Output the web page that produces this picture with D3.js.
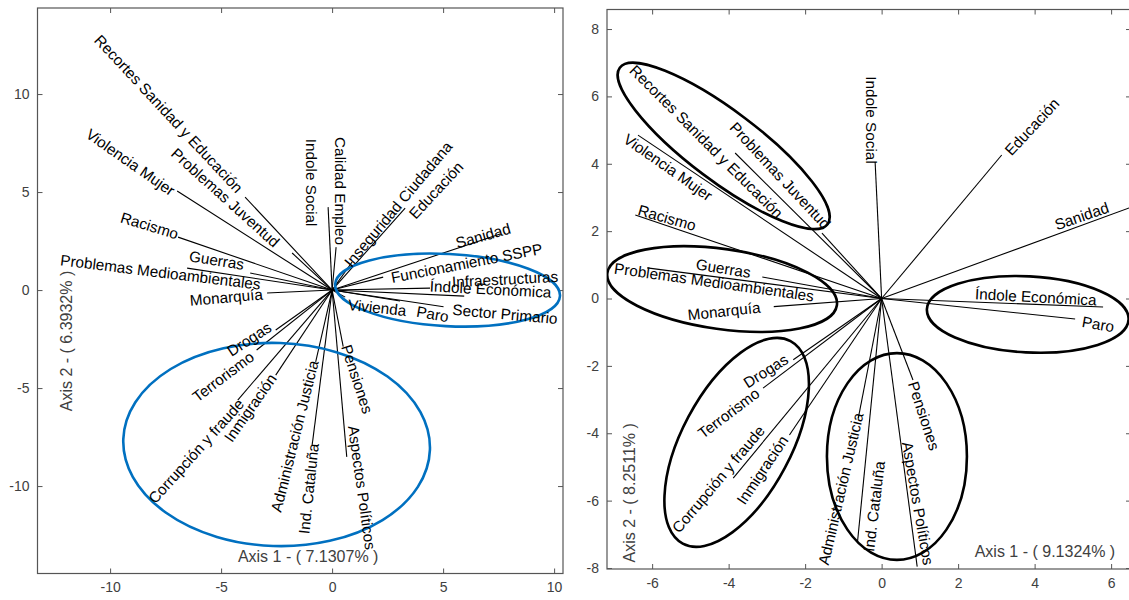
<!DOCTYPE html>
<html>
<head>
<meta charset="utf-8">
<script src="https://cdn.jsdelivr.net/npm/d3@7"></script>
<style>
  html, body { margin: 0; padding: 0; background: #fff; }
  svg { display: block; }
</style>
</head>
<body>
<svg id="chart" width="1129" height="600"></svg>
<script>
// ---------------- LEFT PANEL DATA ----------------
const leftNames = ["Recortes Sanidad y Educación","Problemas Juventud","Violencia Mujer","Racismo","Guerras",
  "Problemas Medioambientales","Monarquía","Drogas","Terrorismo","Corrupción y fraude","Inmigración",
  "Administración Justicia","Ind. Cataluña","Pensiones","Aspectos Políticos","Indole Social","Calidad Empleo",
  "Inseguridad Ciudadana","Educación","Sanidad","Funcionamiento SSPP","Infraestructuras","Índole Económica",
  "Vivienda","Paro","Sector Primario"];
const leftX = [-3.92,-1.80,-6.98,-6.94,-3.69,-6.53,-2.93,-2.54,-3.40,-4.25,-2.54,-0.74,-0.90,0.50,0.66,-0.18,0.18,0.90,3.29,7.57,2.30,4.41,5.95,0.59,3.06,5.02];
const leftY = [4.74,1.89,5.05,2.70,0.87,1.12,-0.15,-2.04,-3.06,-5.61,-4.34,-3.66,-7.91,-2.89,-8.51,4.23,2.19,1.43,4.18,2.86,0.66,0.10,-0.31,-0.36,-0.56,-0.85];
// label anchors (data units) and text angles (degrees)
const leftLabX = [-7.36,-4.80,-9.08,-8.22,-5.20,-7.73,-4.77,-3.74,-4.91,-6.13,-3.69,-1.69,-1.06,1.13,1.35,-0.92,0.36,2.97,4.68,6.80,6.06,7.79,7.14,2.03,4.53,7.79];
const leftLabY = [9.00,4.72,6.53,3.29,1.53,0.92,-0.36,-2.50,-4.41,-8.21,-6.00,-7.45,-10.13,-4.54,-10.08,5.48,5.05,4.39,5.10,2.78,1.38,0.56,0.05,-0.89,-1.22,-1.22];
const leftLabRot = [47,42,35,17,9,7,-5,-33,-37,-48,-55,-76,-84,72,82,90,90,-50,-47,-16,-11,-3,3,6,10,5];
const leftXTicks = [-10,-5,0,5,10];
const leftYTicks = [-10,-5,0,5,10];
const leftXDomain = [-13.27, 10.4];
const leftYDomain = [-14.46, 14.39];
const leftAxis1 = "Axis 1 - ( 7.1307% )";
const leftAxis2 = "Axis 2 - ( 6.3932% )";
// ellipses: centre (data), semi-axes (x units, y units), rotation (deg)
const leftEllCx = [5.20,-2.50];
const leftEllCy = [0.00,-7.88];
const leftEllRx = [5.07,6.91];
const leftEllRy = [1.84,5.18];
const leftEllRot = [3,2];

// ---------------- RIGHT PANEL DATA ----------------
const rightNames = ["Recortes Sanidad y Educación","Problemas Juventud","Violencia Mujer","Racismo","Guerras",
  "Problemas Medioambientales","Monarquía","Drogas","Terrorismo","Corrupción y fraude","Inmigración",
  "Administración Justicia","Ind. Cataluña","Pensiones","Aspectos Políticos","Indole Social","Educación",
  "Sanidad","Índole Económica","Paro"];
const rightX = [-3.83,-1.56,-6.37,-6.44,-3.12,-6.13,-2.82,-2.31,-3.10,-3.88,-2.41,-0.61,-0.63,0.82,0.93,-0.17,3.14,6.47,5.79,5.06];
const rightY = [4.32,1.94,4.85,2.48,0.64,0.91,-0.24,-1.82,-2.66,-5.33,-4.05,-3.55,-7.22,-2.42,-7.96,4.05,4.26,2.69,-0.25,-0.61];
const rightLabX = [-4.58,-2.65,-5.58,-5.61,-4.14,-4.38,-4.12,-3.03,-4.00,-4.27,-3.12,-1.07,-0.20,1.11,0.95,-0.27,3.93,5.23,4.03,5.66];
const rightLabY = [4.66,3.65,3.90,2.40,0.90,0.49,-0.37,-2.15,-3.40,-5.36,-5.09,-5.65,-6.17,-3.48,-6.08,5.30,5.10,2.45,0.05,-0.76];
const rightLabRot = [45,47,35,16,9,8,-6,-32,-37,-50,-56,-77,-83,72,80,90,-47,-19,3,10];
const rightXTicks = [-6,-4,-2,0,2,4,6];
const rightYTicks = [-8,-6,-4,-2,0,2,4,6,8];
const rightXDomain = [-7.18, 6.52];
const rightYDomain = [-8.03, 8.58];
const rightAxis1 = "Axis 1 - ( 9.1324% )";
const rightAxis2 = "Axis 2 - ( 8.2511% )";
const rightEllCx = [-4.13,-4.17,3.82,-3.79,0.40];
const rightEllCy = [4.53,0.28,-0.47,-4.27,-4.69];
const rightEllRx = [3.40,3.03,2.64,3.00,1.83];
const rightEllRy = [1.04,1.19,1.13,1.62,3.07];
const rightEllRot = [37,8,3,-62,0];

// ---------------- DRAWING ----------------
const svg = d3.select("#chart");
const FONT = "'Liberation Sans', Arial, Helvetica, sans-serif";
const fmt = d => String(d);   // plain hyphen-minus like the original

function drawPanel(cfg) {
  const x = d3.scaleLinear().domain(cfg.xDomain).range([cfg.left, cfg.right]);
  const y = d3.scaleLinear().domain(cfg.yDomain).range([cfg.bottom, cfg.top]);
  const g = svg.append("g");
  const clipId = "clip" + cfg.id;
  svg.append("clipPath").attr("id", clipId).append("rect")
    .attr("x", cfg.left).attr("y", cfg.top)
    .attr("width", cfg.right - cfg.left).attr("height", cfg.bottom - cfg.top);

  const axColor = "#555";
  const styleAxis = sel => {
    sel.select(".domain").remove();
    sel.selectAll(".tick line").attr("stroke", axColor);
    sel.selectAll(".tick text").attr("fill", "#404040")
      .style("font-family", FONT).style("font-size", "14px");
  };
  g.append("g").attr("transform", `translate(0,${cfg.bottom})`)
    .call(d3.axisBottom(x).tickValues(cfg.xTicks).tickFormat(fmt).tickSizeInner(-5).tickSizeOuter(0).tickPadding(cfg.xPad))
    .call(styleAxis);
  g.append("g").attr("transform", `translate(0,${cfg.top})`)
    .call(d3.axisTop(x).tickValues(cfg.xTicks).tickSizeInner(-5).tickSizeOuter(0).tickFormat(""))
    .call(styleAxis);
  g.append("g").attr("transform", `translate(${cfg.left},0)`)
    .call(d3.axisLeft(y).tickValues(cfg.yTicks).tickFormat(fmt).tickSizeInner(-5).tickSizeOuter(0).tickPadding(8))
    .call(styleAxis);
  g.append("g").attr("transform", `translate(${cfg.right},0)`)
    .call(d3.axisRight(y).tickValues(cfg.yTicks).tickSizeInner(-5).tickSizeOuter(0).tickFormat(""))
    .call(styleAxis);

  g.append("rect").attr("x", cfg.left).attr("y", cfg.top)
    .attr("width", cfg.right - cfg.left).attr("height", cfg.bottom - cfg.top)
    .attr("fill", "none").attr("stroke", axColor).attr("stroke-width", 1.2);

  // vectors
  const plot = g.append("g").attr("clip-path", `url(#${clipId})`);
  const idx = d3.range(cfg.names.length);
  plot.selectAll("line.vec").data(idx).join("line").attr("class", "vec")
    .attr("x1", x(0)).attr("y1", y(0))
    .attr("x2", i => x(cfg.xs[i])).attr("y2", i => y(cfg.ys[i]))
    .attr("stroke", "#000").attr("stroke-width", 1.1);

  // ellipses
  const eidx = d3.range(cfg.ell.cx.length);
  plot.selectAll("ellipse").data(eidx).join("ellipse")
    .attr("transform", i => `translate(${x(cfg.ell.cx[i])},${y(cfg.ell.cy[i])}) rotate(${cfg.ell.rot[i]})`)
    .attr("rx", i => Math.abs(x(cfg.ell.rx[i]) - x(0)))
    .attr("ry", i => Math.abs(y(cfg.ell.ry[i]) - y(0)))
    .attr("fill", "none").attr("stroke", cfg.ellColor).attr("stroke-width", 2.6);

  // labels
  g.selectAll("text.lab").data(idx).join("text").attr("class", "lab")
    .attr("transform", i => `translate(${x(cfg.lx[i])},${y(cfg.ly[i])}) rotate(${cfg.lr[i]})`)
    .attr("text-anchor", "middle").attr("dominant-baseline", "central")
    .style("font-family", FONT).style("font-size", "15.3px").attr("fill", "#000")
    .text(i => cfg.names[i]);

  // axis titles
  g.append("text")
    .attr("transform", `translate(${x(cfg.a1pos[0])},${y(cfg.a1pos[1])})`)
    .attr("text-anchor", "middle").attr("dominant-baseline", "central")
    .style("font-family", FONT).style("font-size", "16px").attr("fill", "#404040")
    .text(cfg.axis1);
  g.append("text")
    .attr("transform", `translate(${x(cfg.a2pos[0])},${y(cfg.a2pos[1])}) rotate(-90)`)
    .attr("text-anchor", "middle").attr("dominant-baseline", "central")
    .style("font-family", FONT).style("font-size", "16px").attr("fill", "#404040")
    .text(cfg.axis2);
}

drawPanel({
  id: "L", left: 37.5, right: 563, top: 8, bottom: 573.5, xPad: 9,
  xDomain: leftXDomain, yDomain: leftYDomain, xTicks: leftXTicks, yTicks: leftYTicks,
  names: leftNames, xs: leftX, ys: leftY, lx: leftLabX, ly: leftLabY, lr: leftLabRot,
  ell: {cx: leftEllCx, cy: leftEllCy, rx: leftEllRx, ry: leftEllRy, rot: leftEllRot},
  ellColor: "#0070C0",
  axis1: leftAxis1, axis2: leftAxis2, a1pos: [-1.08, -13.6], a2pos: [-11.98, -2.6]
});

drawPanel({
  id: "R", left: 607, right: 1131, top: 9.5, bottom: 569, xPad: 9,
  xDomain: rightXDomain, yDomain: rightYDomain, xTicks: rightXTicks, yTicks: rightYTicks,
  names: rightNames, xs: rightX, ys: rightY, lx: rightLabX, ly: rightLabY, lr: rightLabRot,
  ell: {cx: rightEllCx, cy: rightEllCy, rx: rightEllRx, ry: rightEllRy, rot: rightEllRot},
  ellColor: "#000",
  axis1: rightAxis1, axis2: rightAxis2, a1pos: [4.27, -7.52], a2pos: [-6.6, -5.77]
});
</script>
</body>
</html>
